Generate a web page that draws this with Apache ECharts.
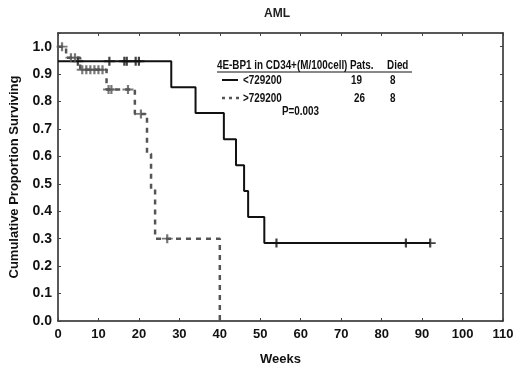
<!DOCTYPE html>
<html>
<head>
<meta charset="utf-8">
<script src="https://cdn.jsdelivr.net/npm/echarts@6/dist/echarts.min.js"></script>
<style>
  html, body { margin: 0; padding: 0; background: #fff; }
  #chart { width: 520px; height: 371px; }
</style>
</head>
<body>
<div id="chart"></div>
<script>
// Kaplan-Meier curves: [week, proportion surviving]
var lowSteps = [[0, 0.947], [28, 0.852], [34, 0.758], [41, 0.663], [44, 0.568], [46, 0.474], [47, 0.379], [51, 0.284], [92, 0.284]];
var highSteps = [[0, 1.0], [2, 0.96], [5.5, 0.916], [12, 0.844], [19, 0.755], [22, 0.61], [23, 0.48], [24, 0.30], [40, 0]];

// censored observations (+ marks)
var lowCensored = [[4.9, 0.947], [12.7, 0.947], [16.4, 0.947], [17, 0.947], [19.2, 0.947], [20, 0.947], [54, 0.284], [86, 0.284], [92, 0.284]];
var highCensored = [[1, 1.0], [3.2, 0.96], [4.2, 0.96], [6, 0.916], [7, 0.916], [8, 0.916], [9, 0.916], [10, 0.916], [11, 0.916], [12.5, 0.844], [13.2, 0.844], [17.3, 0.844], [20.5, 0.755], [27, 0.30]];

var legendHeader = ['4E-BP1 in CD34+(M/100cell)', 'Pats.', 'Died'];
var groupNames = ['<729200', '>729200'];
var groupPats = ['19', '26'];
var groupDied = ['8', '8'];
var pValue = 'P=0.003';

var plus = 'path://M4,0h2v4h4v2h-4v4h-2v-4h-4v-2h4z';
var sans = '"Liberation Sans", Arial, sans-serif';

var chart = echarts.init(document.getElementById('chart'));

// condensed bold text, like the original figure's legend table
var legendText = function (x, y, txt) {
    return {
        type: 'text', x: x, y: y, scaleX: 0.76,
        style: {text: txt, fill: '#111', font: 'bold 13px ' + sans, textVerticalAlign: 'middle'}
    };
};

var option = {
    backgroundColor: '#fff',
    animation: false,
    title: {
        text: 'AML',
        left: 272,
        top: 3,
        textAlign: 'center',
        textStyle: {fontFamily: sans, fontWeight: 'bold', fontSize: 12, color: '#222'}
    },
    grid: {left: 55, right: 17, top: 33, bottom: 49},
    xAxis: [{
        type: 'value', min: 0, max: 110, interval: 10,
        name: 'Weeks', nameLocation: 'middle', nameGap: 32,
        nameTextStyle: {fontFamily: sans, fontWeight: 'bold', fontSize: 13, color: '#111'},
        axisLine: {lineStyle: {color: '#222', width: 1.5}},
        axisTick: {inside: true, length: 3, lineStyle: {color: '#444'}},
        axisLabel: {fontFamily: sans, fontWeight: 'bold', fontSize: 13, color: '#111', margin: 7},
        splitLine: {show: false}
    }, {
        type: 'value', min: 0, max: 110, interval: 10, position: 'top',
        axisLine: {show: true, onZero: false, lineStyle: {color: '#222', width: 1.5}},
        axisTick: {inside: true, length: 3, lineStyle: {color: '#444'}},
        axisLabel: {show: false},
        splitLine: {show: false}
    }],
    yAxis: [{
        type: 'value', min: 0, max: 1.05, interval: 0.1,
        name: 'Cumulative Proportion Surviving', nameLocation: 'middle', nameGap: 37,
        nameTextStyle: {fontFamily: sans, fontWeight: 'bold', fontSize: 13, color: '#111'},
        axisLine: {show: true, lineStyle: {color: '#222', width: 1.5}},
        axisTick: {inside: true, length: 3, lineStyle: {color: '#444'}},
        axisLabel: {
            fontFamily: sans, fontWeight: 'bold', fontSize: 14, color: '#111', margin: 6,
            formatter: function (v) { return v > 1.001 ? '' : v.toFixed(1); }
        },
        splitLine: {show: false}
    }, {
        type: 'value', min: 0, max: 1.05, interval: 0.1, position: 'right',
        axisLine: {show: true, onZero: false, lineStyle: {color: '#222', width: 1.5}},
        axisTick: {inside: true, length: 3, lineStyle: {color: '#444'}},
        axisLabel: {show: false},
        splitLine: {show: false}
    }],
    series: [{
        type: 'line', step: 'end', data: lowSteps, symbol: 'none',
        lineStyle: {color: '#111', width: 2}, z: 3
    }, {
        type: 'line', step: 'end', data: highSteps, symbol: 'none',
        lineStyle: {color: '#555', width: 2.5, type: [5, 5]}, z: 2
    }, {
        type: 'scatter', data: lowCensored, symbol: plus, symbolSize: [11, 9],
        itemStyle: {color: '#111'}, z: 4
    }, {
        type: 'scatter', data: highCensored, symbol: plus, symbolSize: [11, 9],
        itemStyle: {color: '#555'}, z: 4
    }],
    graphic: [
        legendText(217, 65, legendHeader[0]),
        legendText(350, 65, legendHeader[1]),
        legendText(387, 65, legendHeader[2]),
        {type: 'line', shape: {x1: 217, y1: 72, x2: 412, y2: 72}, style: {stroke: '#111', lineWidth: 1}},
        {type: 'line', shape: {x1: 222, y1: 80, x2: 238, y2: 80}, style: {stroke: '#111', lineWidth: 2}},
        legendText(243, 80, groupNames[0]),
        legendText(351, 80, groupPats[0]),
        legendText(390, 80, groupDied[0]),
        {type: 'line', shape: {x1: 222, y1: 98, x2: 239, y2: 98}, style: {stroke: '#555', lineWidth: 2.5, lineDash: [3, 4]}},
        legendText(243, 98, groupNames[1]),
        legendText(354, 98, groupPats[1]),
        legendText(390, 98, groupDied[1]),
        legendText(282, 111, pValue)
    ]
};

chart.setOption(option);
</script>
</body>
</html>
